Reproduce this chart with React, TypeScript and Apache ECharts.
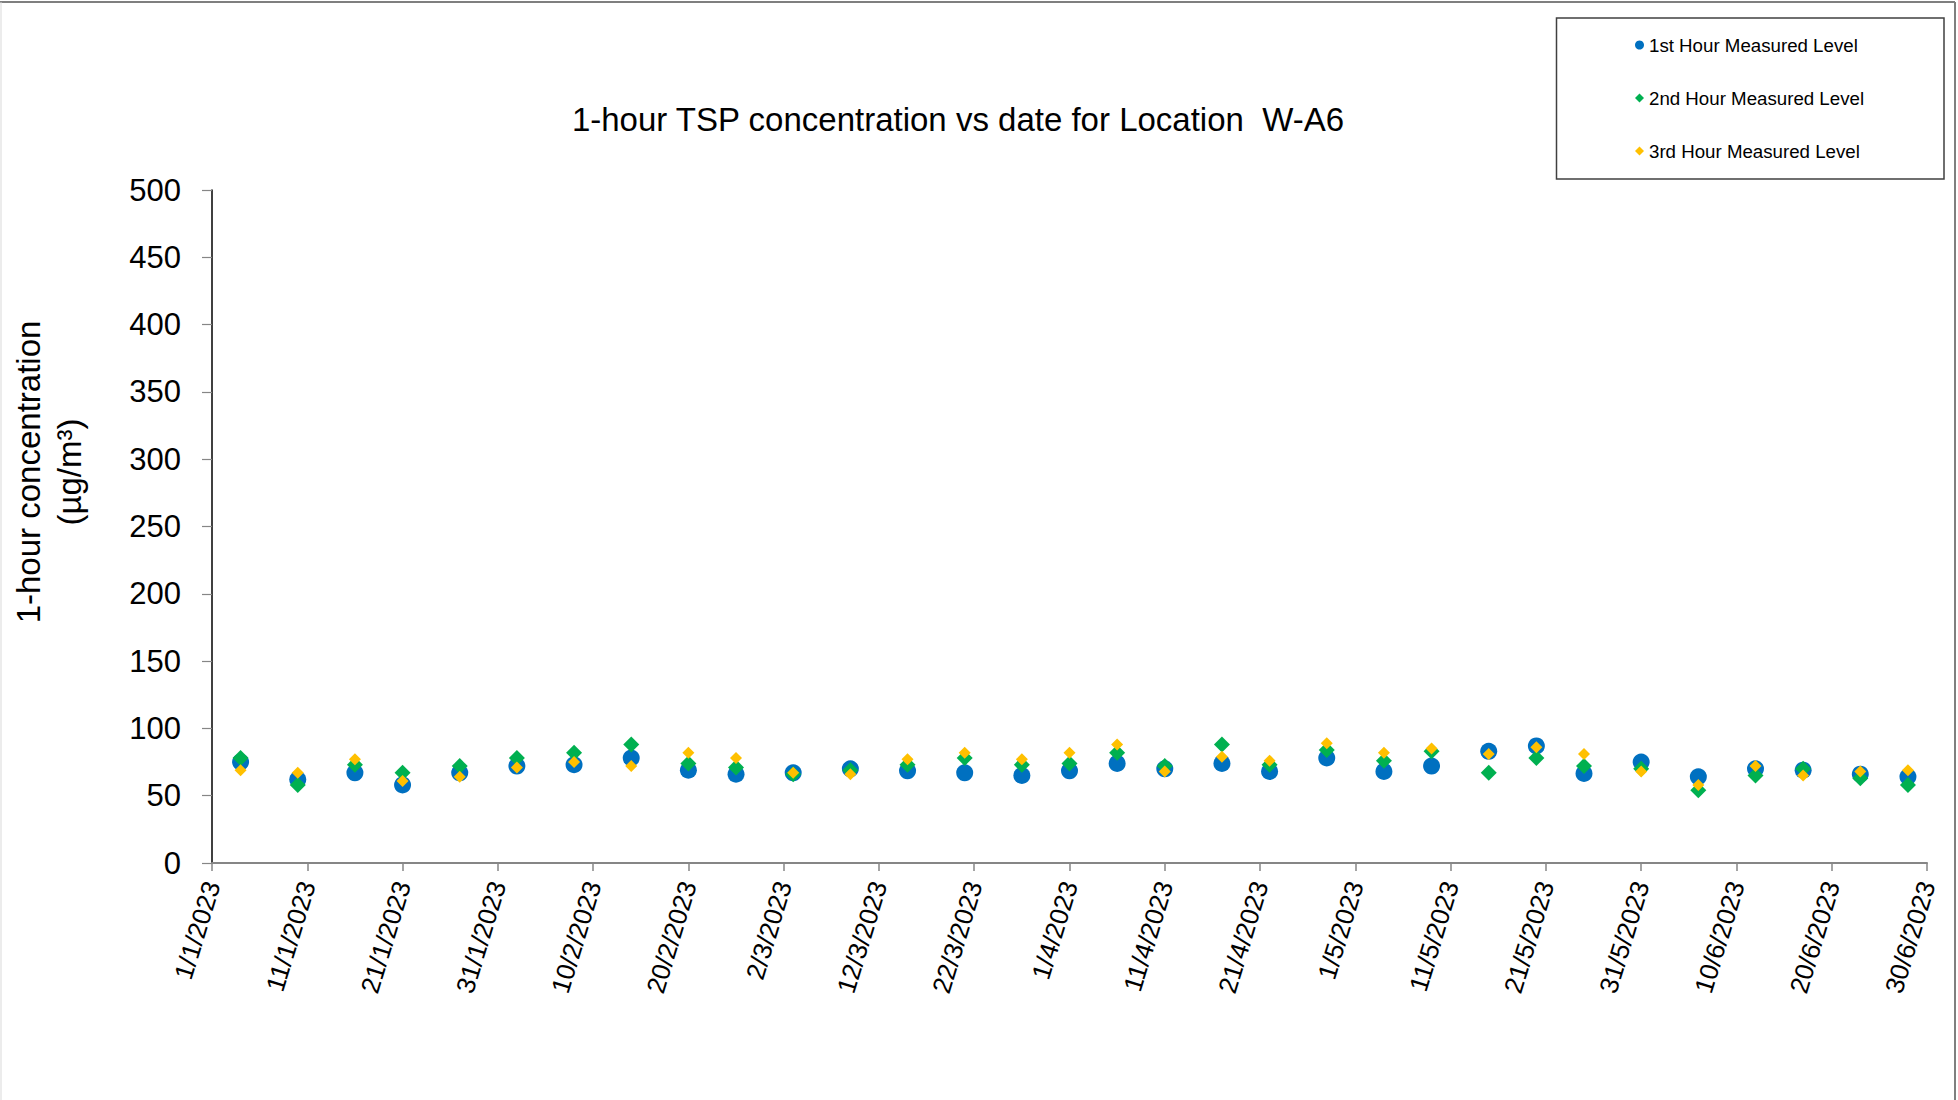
import React, { useEffect, useRef } from "react";
import * as echarts from "echarts";

const titleText = "1-hour TSP concentration vs date for Location  W-A6";
const yAxisNameLine1 = "1-hour concentration";
const yAxisNameLine2 = "(µg/m³)";
const seriesNames = ["1st Hour Measured Level", "2nd Hour Measured Level", "3rd Hour Measured Level"];
const seriesColors = ["#0070C0", "#00B050", "#FFC000"];

const sampleDates = [
  "2023-01-04", "2023-01-10", "2023-01-16", "2023-01-21", "2023-01-27",
  "2023-02-02", "2023-02-08", "2023-02-14", "2023-02-20", "2023-02-25",
  "2023-03-03", "2023-03-09", "2023-03-15", "2023-03-21", "2023-03-27",
  "2023-04-01", "2023-04-06", "2023-04-11", "2023-04-17", "2023-04-22",
  "2023-04-28", "2023-05-04", "2023-05-09", "2023-05-15", "2023-05-20",
  "2023-05-25", "2023-05-31", "2023-06-06", "2023-06-12", "2023-06-17",
  "2023-06-23", "2023-06-28",
];

const hour1 = [75, 62, 67, 58, 67, 72, 73, 78, 69, 66, 67, 70, 68.5, 67, 65, 68.5, 74, 70, 74, 68, 78, 68, 72, 83, 87, 66.5, 75, 64, 70, 69, 66, 64];
const hour2 = [78, 58, 73, 67, 72, 78, 82, 88, 74, 71, 66, 69, 73, 78, 73, 74, 82, 72, 88, 73, 84, 76, 83, 67, 78, 72, 70, 54, 65, 70, 63, 58];
const hour3 = [69, 67, 77, 61, 64, 71, 75, 72, 82, 78, 67, 66, 77, 82, 77, 82, 88, 68, 79, 76, 89, 82, 85, 81, 86, 81, 68, 58, 72, 65, 68, 69];

const axisStartDate = "2023-01-01";
const axisDays = 180;
const tickDays = 10;
const yMax = 500;
const yStep = 50;

const DAY = 86400000;
const FONT = "'Liberation Sans', Arial, Helvetica, sans-serif";

function parseUTC(s: string): number {
  const [y, m, d] = s.split("-").map(Number);
  return Date.UTC(y, m - 1, d);
}
const startMs = parseUTC(axisStartDate);
const dayOffsets = sampleDates.map((s) => (parseUTC(s) - startMs) / DAY);

function fmtDay(v: number): string {
  const d = new Date(startMs + v * DAY);
  return `${d.getUTCDate()}/${d.getUTCMonth() + 1}/${d.getUTCFullYear()}`;
}

const App: React.FC = () => {
  const ref = useRef<HTMLDivElement>(null);

  useEffect(() => {
    if (!ref.current) return;
    const chart = echarts.init(ref.current, undefined, { renderer: "svg" });
    const values = [hour1, hour2, hour3];
    const symbols = ["circle", "diamond", "diamond"];
    const sizes = [17, 16, 12];

    chart.setOption({
      animation: false,
      backgroundColor: "#ffffff",
      grid: { left: 212, right: 31, top: 190, bottom: 237, containLabel: false },
      xAxis: {
        type: "value",
        min: 0,
        max: axisDays,
        interval: tickDays,
        axisLine: { show: true, onZero: false, lineStyle: { color: "#868686", width: 2 } },
        axisTick: { show: true, length: 8, lineStyle: { color: "#868686", width: 1.5 } },
        splitLine: { show: false },
        axisLabel: {
          rotate: 73,
          margin: 19,
          fontSize: 26,
          color: "#000",
          fontFamily: FONT,
          formatter: (v: number) => fmtDay(v),
          showMinLabel: true,
          showMaxLabel: true,
        },
      },
      yAxis: {
        type: "value",
        min: 0,
        max: yMax,
        interval: yStep,
        axisLine: { show: true, lineStyle: { color: "#000", width: 1.5 } },
        axisTick: { show: true, length: 10, lineStyle: { color: "#868686", width: 1.2 } },
        splitLine: { show: false },
        axisLabel: { fontSize: 31, color: "#000", fontFamily: FONT, margin: 31 },
      },
      legend: {
        orient: "vertical",
        left: 1630,
        top: 30,
        itemWidth: 9,
        itemHeight: 9,
        itemGap: 33,
        data: seriesNames,
        textStyle: { fontSize: 18.7, color: "#000", fontFamily: FONT, lineHeight: 20 },
      },
      series: seriesNames.map((name, i) => ({
        name,
        type: "scatter",
        symbol: symbols[i],
        symbolSize: sizes[i],
        itemStyle: { color: seriesColors[i], opacity: 1 },
        z: 2 + i,
        data: dayOffsets.map((x, j) => [x, values[i][j]]),
      })),
      graphic: [
        {
          type: "line",
          shape: { x1: 0, y1: 2, x2: 1955, y2: 2 },
          style: { stroke: "#7f7f7f", lineWidth: 2 },
        },
        {
          type: "line",
          shape: { x1: 1955, y1: 2, x2: 1955, y2: 1100 },
          style: { stroke: "#7f7f7f", lineWidth: 2 },
        },
        {
          type: "line",
          shape: { x1: 1, y1: 2, x2: 1, y2: 1100 },
          style: { stroke: "#d9d9d9", lineWidth: 1 },
        },
        {
          type: "rect",
          shape: { x: 1556.5, y: 18, width: 387.5, height: 161 },
          style: { fill: "none", stroke: "#404040", lineWidth: 1.5 },
          z: 1,
        },
        {
          type: "text",
          x: 958,
          y: 119,
          style: {
            text: titleText,
            fontSize: 33,
            fontFamily: FONT,
            fill: "#000",
            textAlign: "center",
            verticalAlign: "middle",
          },
        },
        {
          type: "text",
          x: 28,
          y: 472,
          rotation: Math.PI / 2,
          style: {
            text: yAxisNameLine1,
            fontSize: 33,
            fontFamily: FONT,
            fill: "#000",
            textAlign: "center",
            verticalAlign: "middle",
          },
        },
        {
          type: "text",
          x: 69,
          y: 472,
          rotation: Math.PI / 2,
          style: {
            text: yAxisNameLine2,
            fontSize: 33,
            fontFamily: FONT,
            fill: "#000",
            textAlign: "center",
            verticalAlign: "middle",
          },
        },
      ],
    });

    return () => {
      chart.dispose();
    };
  }, []);

  return (
    <div
      ref={ref}
      style={{ position: "absolute", left: 0, top: 0, width: 1958, height: 1100 }}
    />
  );
};

export default App;
